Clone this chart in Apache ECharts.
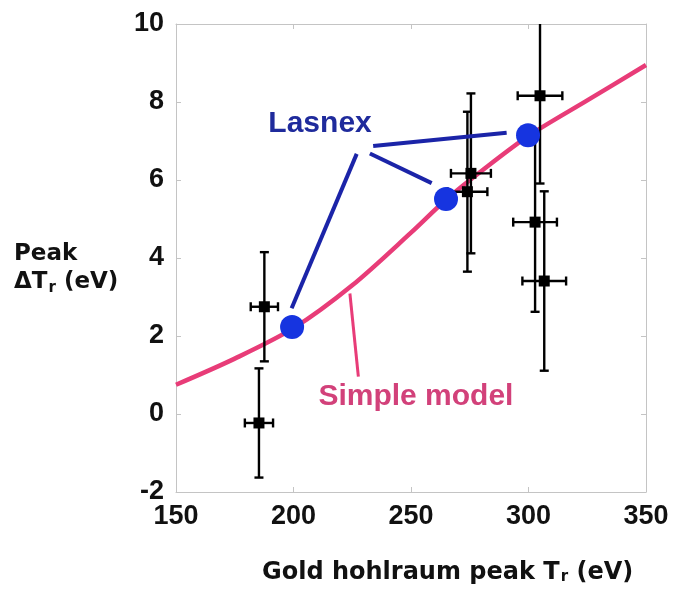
<!DOCTYPE html>
<html>
<head>
<meta charset="utf-8">
<script src="https://cdn.jsdelivr.net/npm/echarts@6/dist/echarts.min.js"></script>
<style>
  html, body { margin: 0; padding: 0; background: #fff; }
  #chart { width: 676px; height: 602px; }
</style>
</head>
<body>
<div id="chart"></div>
<script>
// Measured shots: hohlraum peak Tr (eV) vs. peak ΔTr (eV), with error bars
const shotTr = [187.6, 185.3, 275.5, 274.0, 304.9, 302.8, 306.7];
const shotDeltaTr = [2.75, -0.23, 6.17, 5.70, 8.16, 4.92, 3.41];
const shotTrErr = [5.8, 6.0, 8.5, 8.5, 9.5, 9.3, 9.3];
const shotDeltaTrErr = [1.4, 1.4, 2.05, 2.05, 2.25, 2.3, 2.3];

// Lasnex simulation points
const lasnexTr = [199.4, 264.9, 299.8];
const lasnexDeltaTr = [2.23, 5.51, 7.15];

// Simple model curve
const modelTr = [150, 175, 200, 225, 250, 265, 280, 300, 325, 350];
const modelDeltaTr = [0.75, 1.42, 2.2, 3.3, 4.65, 5.5, 6.23, 7.13, 8.04, 8.95];

// Axis ticks
const xTicks = [150, 200, 250, 300, 350];
const yTicks = [-2, 0, 2, 4, 6, 8, 10];

// Callout leader lines (data coordinates) and label anchors
const lasnexLeaders = [
  [[226.9, 6.67], [199.2, 2.71]],
  [[232.5, 6.68], [258.8, 5.92]],
  [[233.9, 6.87], [290.7, 7.21]]
];
const modelLeader = [[224.0, 3.09], [227.6, 0.96]];
const lasnexLabelAt = [211.3, 7.44];
const modelLabelAt = [252.1, 0.44];

const FONT = '"Liberation Sans", Arial, Helvetica, sans-serif';
const TITLE_FONT = '"DejaVu Sans", Verdana, sans-serif';
const PINK = '#e83c78';
const BLUE_LINE = '#1b24a8';
const BLUE_DOT = '#1634e0';

const chart = echarts.init(document.getElementById('chart'), null, { renderer: 'canvas' });

const tickStyle = { show: true, inside: true, length: 5, lineStyle: { color: '#c4c4c4', width: 1 } };
const frameLine = { show: true, onZero: false, lineStyle: { color: '#c4c4c4', width: 1 } };

function leaderSeries(pts, color, width) {
  return {
    type: 'line', data: pts, symbol: 'none', silent: true, z: 4,
    lineStyle: { color: color, width: width }
  };
}

function textSeries(at, text, color) {
  return {
    type: 'scatter', z: 6, symbolSize: 0, silent: true,
    data: [at],
    itemStyle: { opacity: 1 },
    label: {
      show: true, position: 'inside', formatter: text,
      color: color, fontFamily: FONT, fontWeight: 'bold', fontSize: 30
    }
  };
}

function titleRich(size) {
  return {
    d: { fontFamily: TITLE_FONT, fontWeight: 'bold', fontSize: size, fill: '#111' },
    s: { fontFamily: TITLE_FONT, fontWeight: 'bold', fontSize: 15, fill: '#111', verticalAlign: 'bottom', padding: [9, 0, 0, 1] }
  };
}

const option = {
  backgroundColor: '#ffffff',
  animation: false,
  grid: { left: 176, right: 30, top: 24, bottom: 110 },
  xAxis: [{
    type: 'value', min: xTicks[0], max: xTicks[xTicks.length - 1], interval: 50,
    axisLine: frameLine, axisTick: tickStyle, splitLine: { show: false },
    axisLabel: { color: '#111', fontFamily: FONT, fontWeight: 'bold', fontSize: 27, margin: 11 }
  }, {
    type: 'value', position: 'top', min: xTicks[0], max: xTicks[xTicks.length - 1], interval: 50,
    axisLine: frameLine, axisTick: tickStyle, splitLine: { show: false }, axisLabel: { show: false }
  }],
  yAxis: [{
    type: 'value', min: yTicks[0], max: yTicks[yTicks.length - 1], interval: 2,
    axisLine: frameLine, axisTick: tickStyle, splitLine: { show: false },
    axisLabel: { color: '#111', fontFamily: FONT, fontWeight: 'bold', fontSize: 27, margin: 12 }
  }, {
    type: 'value', position: 'right', min: yTicks[0], max: yTicks[yTicks.length - 1], interval: 2,
    axisLine: frameLine, axisTick: tickStyle, splitLine: { show: false }, axisLabel: { show: false }
  }],
  series: [
    {
      type: 'line', name: 'Simple model', smooth: 0.3, symbol: 'none', z: 2,
      data: modelTr.map((t, i) => [t, modelDeltaTr[i]]),
      lineStyle: { color: PINK, width: 4.5 }
    },
    leaderSeries(modelLeader, PINK, 3),
    ...lasnexLeaders.map(p => leaderSeries(p, BLUE_LINE, 4)),
    {
      type: 'custom', name: 'Measured', z: 3, clip: true,
      data: shotTr.map((t, i) => [t, shotDeltaTr[i], shotTrErr[i], shotDeltaTrErr[i]]),
      renderItem: function (params, api) {
        const x = api.value(0), y = api.value(1), ex = api.value(2), ey = api.value(3);
        const c = api.coord([x, y]);
        const top = api.coord([x, y + ey]);
        const bot = api.coord([x, y - ey]);
        const lft = api.coord([x - ex, y]);
        const rgt = api.coord([x + ex, y]);
        const cap = 4.5, sq = 11;
        const st = { stroke: '#000', lineWidth: 2.4 };
        const seg = (x1, y1, x2, y2) => ({ type: 'line', shape: { x1, y1, x2, y2 }, style: st });
        return {
          type: 'group',
          children: [
            seg(top[0], top[1], bot[0], bot[1]),
            seg(top[0] - cap, top[1], top[0] + cap, top[1]),
            seg(bot[0] - cap, bot[1], bot[0] + cap, bot[1]),
            seg(lft[0], lft[1], rgt[0], rgt[1]),
            seg(lft[0], lft[1] - cap, lft[0], lft[1] + cap),
            seg(rgt[0], rgt[1] - cap, rgt[0], rgt[1] + cap),
            { type: 'rect', shape: { x: c[0] - sq / 2, y: c[1] - sq / 2, width: sq, height: sq }, style: { fill: '#000' } }
          ]
        };
      }
    },
    {
      type: 'scatter', name: 'Lasnex', z: 5, symbol: 'circle', symbolSize: 24,
      data: lasnexTr.map((t, i) => [t, lasnexDeltaTr[i]]),
      itemStyle: { color: BLUE_DOT, opacity: 1 }
    },
    textSeries(lasnexLabelAt, 'Lasnex', '#1f2b9c'),
    textSeries(modelLabelAt, 'Simple model', '#d2417a')
  ],
  graphic: [
    {
      type: 'text', left: 14, top: 240,
      style: {
        text: '{d|Peak}\n{d|ΔT}{s|r}{d| (eV)}',
        lineHeight: 28,
        rich: titleRich(23)
      }
    },
    {
      type: 'text', left: 262, top: 561,
      style: {
        text: '{d|Gold hohlraum peak T}{s|r}{d| (eV)}',
        rich: titleRich(24)
      }
    }
  ]
};

chart.setOption(option);
</script>
</body>
</html>
